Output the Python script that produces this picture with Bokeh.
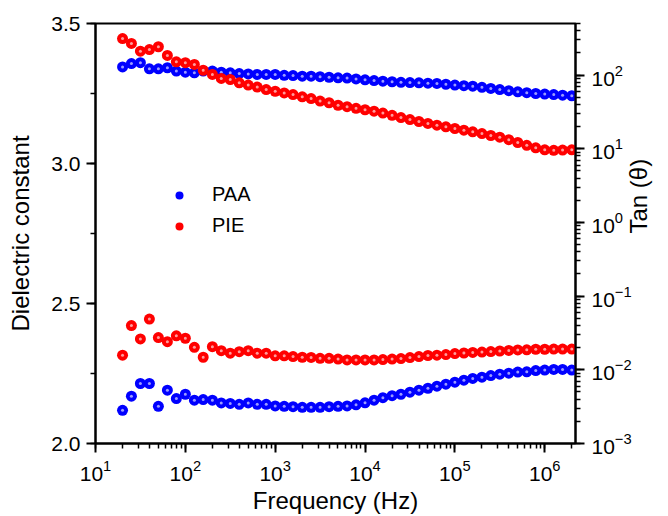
import math
from bokeh.plotting import figure
from bokeh.models import (Range1d, LogScale, LogAxis, SingleIntervalTicker, LogTicker,
                          Legend, LegendItem, PrintfTickFormatter)
from bokeh.embed import file_html
from bokeh.resources import INLINE

# ---------------- data ----------------
freq = [20, 25.1, 31.6, 39.8, 50.1, 63.1, 79.4,
        100, 126, 158, 200, 251, 316, 398, 501, 631, 794,
        1000, 1260, 1580, 2000, 2510, 3160, 3980, 5010, 6310, 7940,
        1e4, 1.26e4, 1.58e4, 2e4, 2.51e4, 3.16e4, 3.98e4, 5.01e4, 6.31e4, 7.94e4,
        1e5, 1.26e5, 1.58e5, 2e5, 2.51e5, 3.16e5, 3.98e5, 5.01e5, 6.31e5, 7.94e5,
        1e6, 1.26e6, 1.58e6, 2e6]

paa_eps = [3.345, 3.357, 3.360, 3.338, 3.338, 3.342, 3.330, 3.326, 3.324, 3.330,
           3.330, 3.326, 3.324, 3.321, 3.320, 3.318, 3.318, 3.318, 3.315, 3.314,
           3.312, 3.312, 3.310, 3.308, 3.306, 3.305, 3.302, 3.299, 3.296, 3.294,
           3.292, 3.290, 3.289, 3.288, 3.287, 3.286, 3.283, 3.280, 3.278, 3.276,
           3.272, 3.268, 3.264, 3.260, 3.256, 3.253, 3.250, 3.248, 3.246, 3.244, 3.242]

pie_eps = [3.446, 3.429, 3.401, 3.407, 3.417, 3.386, 3.363, 3.360, 3.354, 3.333,
           3.318, 3.304, 3.300, 3.288, 3.280, 3.273, 3.264, 3.258, 3.252, 3.246,
           3.238, 3.232, 3.223, 3.217, 3.208, 3.203, 3.197, 3.192, 3.187, 3.180,
           3.172, 3.164, 3.157, 3.150, 3.143, 3.137, 3.131, 3.125, 3.119, 3.113,
           3.107, 3.100, 3.094, 3.085, 3.075, 3.065, 3.056, 3.049, 3.047, 3.048, 3.049]

paa_tan = [0.00282, 0.00438, 0.00652, 0.00652, 0.0032, 0.00529, 0.00407, 0.00466, 0.00387, 0.00394,
           0.00387, 0.00355, 0.0035, 0.0034, 0.00355, 0.0034, 0.0034, 0.00323, 0.0032, 0.00316,
           0.0031, 0.0031, 0.0031, 0.00316, 0.0032, 0.00323, 0.00335, 0.00357, 0.00387, 0.00418,
           0.00445, 0.00466, 0.00497, 0.00529, 0.00562, 0.0060, 0.00638, 0.00679, 0.00722, 0.00764,
           0.00794, 0.00834, 0.00873, 0.00901, 0.00931, 0.0094, 0.00975, 0.0099, 0.0101, 0.0101, 0.0099]

pie_tan = [0.0158, 0.0398, 0.0262, 0.0488, 0.0274, 0.0241, 0.0289, 0.0268, 0.0202, 0.0148,
           0.0206, 0.0182, 0.0168, 0.0176, 0.0182, 0.0168, 0.0168, 0.0155, 0.0155, 0.0151,
           0.0148, 0.0147, 0.0143, 0.0143, 0.0140, 0.0136, 0.0136, 0.0136, 0.0136, 0.01377,
           0.0140, 0.0142, 0.01466, 0.01514, 0.01563, 0.0158, 0.0161, 0.01663, 0.0169, 0.0172,
           0.0174, 0.0177, 0.0180, 0.0183, 0.0186, 0.0187, 0.0190, 0.0190, 0.0191, 0.0191, 0.0191]

series_names = ["PAA", "PIE"]
x_range = (10, 2.2e6)
eps_range = (2.0, 3.5)
tan_range = (1e-3, 500)

FONT = "Liberation Sans"
RED, BLUE = "#ff0000", "#0000ff"
RED_HI, BLUE_HI = "#ff9c9c", "#9c9cff"

p = figure(width=668, height=516, x_axis_type="log",
           x_range=Range1d(*x_range), y_range=Range1d(*eps_range),
           output_backend="svg", toolbar_location=None,
           min_border_left=95, min_border_right=90, min_border_top=23, min_border_bottom=73)
p.extra_y_ranges = {"tan": Range1d(*tan_range)}
p.extra_y_scales = {"tan": LogScale()}

p.grid.visible = False
p.outline_line_color = "black"
p.outline_line_width = 2
p.background_fill_color = "white"
p.border_fill_color = "white"

def style_axis(ax):
    ax.axis_line_width = 2
    ax.axis_line_color = "black"
    ax.major_tick_line_width = 2
    ax.minor_tick_line_width = 1.5
    ax.major_tick_line_color = "black"
    ax.minor_tick_line_color = "black"
    ax.major_tick_out = 9
    ax.major_tick_in = 0
    ax.minor_tick_out = 5
    ax.minor_tick_in = 0
    ax.major_label_text_font = FONT
    ax.major_label_text_font_size = "21px"
    ax.major_label_text_color = "black"
    ax.axis_label_text_font = FONT
    ax.axis_label_text_font_size = "24px"
    ax.axis_label_text_font_style = "normal"
    ax.axis_label_text_color = "black"

xa = p.xaxis[0]
style_axis(xa)
xa.ticker = LogTicker(num_minor_ticks=10)
xa.axis_label = "Frequency (Hz)"
xa.major_label_standoff = 7
xa.axis_label_standoff = 3

ya = p.yaxis[0]
style_axis(ya)
ya.ticker = SingleIntervalTicker(interval=0.5, num_minor_ticks=2)
ya.formatter = PrintfTickFormatter(format="%.1f")
ya.axis_label = "Dielectric constant"
ya.major_label_standoff = 6
ya.axis_label_standoff = 14

ra = LogAxis(y_range_name="tan", ticker=LogTicker(num_minor_ticks=10))
style_axis(ra)
ra.axis_label = "Tan (θ)"
ra.axis_label_orientation = math.pi / 2
ra.major_label_standoff = 7
ra.axis_label_standoff = 4
p.add_layout(ra, "right")

# dielectric constant (left axis)
r_paa_e = p.scatter(freq, paa_eps, size=11, fill_color=BLUE, line_color=None)
p.scatter(freq, paa_eps, size=3, fill_color=BLUE_HI, line_color=None)
r_pie_e = p.scatter(freq, pie_eps, size=11, fill_color=RED, line_color=None)
p.scatter(freq, pie_eps, size=3, fill_color=RED_HI, line_color=None)

# tan (right axis)
r_paa_t = p.scatter(freq, paa_tan, size=11, fill_color=BLUE, line_color=None, y_range_name="tan")
p.scatter(freq, paa_tan, size=3, fill_color=BLUE_HI, line_color=None, y_range_name="tan")
r_pie_t = p.scatter(freq, pie_tan, size=11, fill_color=RED, line_color=None, y_range_name="tan")
p.scatter(freq, pie_tan, size=3, fill_color=RED_HI, line_color=None, y_range_name="tan")

legend = Legend(items=[LegendItem(label=series_names[0], renderers=[r_paa_t]),
                       LegendItem(label=series_names[1], renderers=[r_pie_t])],
                location=(74, 206))
legend.border_line_color = None
legend.background_fill_alpha = 0
legend.padding = 0
legend.margin = 0
legend.spacing = 8
legend.glyph_width = 20
legend.glyph_height = 20
legend.label_height = 20
legend.label_standoff = 23
legend.label_text_font = FONT
legend.label_text_font_size = "20px"
legend.label_text_color = "black"
p.add_layout(legend, "center")

open("out.html", "w").write(file_html(p, INLINE))
